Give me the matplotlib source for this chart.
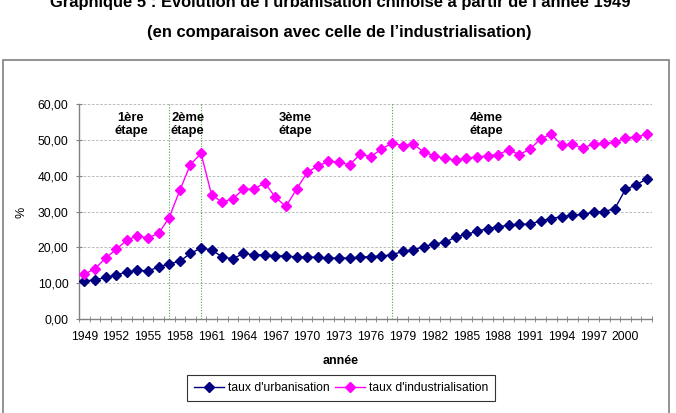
import matplotlib
matplotlib.use("Agg")
import matplotlib.pyplot as plt
from matplotlib.patches import Rectangle
from matplotlib.ticker import FixedLocator, FuncFormatter

plt.rcParams['font.family'] = ['Liberation Sans', 'DejaVu Sans']

years = list(range(1949, 2003))
urbanisation = [10.6, 10.9, 11.6, 12.3, 13.1, 13.6, 13.4, 14.5, 15.4, 16.1,
                18.3, 19.8, 19.3, 17.3, 16.8, 18.3, 17.9, 17.9, 17.6, 17.6,
                17.3, 17.3, 17.2, 17.0, 17.0, 17.0, 17.3, 17.4, 17.6, 17.9,
                18.9, 19.3, 20.2, 21.0, 21.4, 22.9, 23.6, 24.5, 25.2, 25.8,
                26.1, 26.4, 26.5, 27.4, 28.0, 28.6, 28.9, 29.2, 29.8, 30.0,
                30.8, 36.2, 37.4, 39.1]
industrialisation = [12.5, 14.0, 17.0, 19.4, 22.0, 23.2, 22.6, 23.9, 28.3, 35.9,
                     43.1, 46.2, 34.6, 32.6, 33.6, 36.2, 36.2, 38.0, 34.0, 31.4,
                     36.2, 40.9, 42.7, 44.0, 43.8, 43.0, 46.0, 45.3, 47.4, 49.1,
                     48.4, 48.8, 46.6, 45.5, 44.8, 44.3, 44.9, 45.2, 45.5, 45.9,
                     47.2, 45.9, 47.4, 50.3, 51.6, 48.5, 48.7, 47.7, 48.9, 49.0,
                     49.3, 50.5, 50.8, 51.5]
stage_lines = [1957, 1960, 1978]
stage_labels = ["1ère\nétape", "2ème\nétape", "3ème\nétape", "4ème\nétape"]
stage_label_x = [1953.4, 1958.75, 1968.9, 1986.9]

W, H = 676, 413
fig = plt.figure(figsize=(W / 100, H / 100), dpi=100)

# outer frame
fig.patches.append(Rectangle((3 / W, -0.05), 666 / W, 1 - 60 / H + 0.05,
                             transform=fig.transFigure, fill=False,
                             edgecolor='#808080', linewidth=1.2))

fig.text(340 / W, 1 - 7.5 / H, "Graphique 5 : Evolution de l\u2019urbanisation chinoise à partir de l\u2019année 1949",
         ha='center', va='baseline', fontsize=11.9, fontweight='bold')
fig.text(339.5 / W, 1 - 36.5 / H, "(en comparaison avec celle de l\u2019industrialisation)",
         ha='center', va='baseline', fontsize=11.9, fontweight='bold')

ax = fig.add_axes([79 / W, 1 - 319 / H, (652 - 79) / W, (319 - 104) / H])
ax.set_xlim(1948.5, 2002.5)
ax.set_ylim(0, 60)

for v in range(10, 61, 10):
    ax.axhline(v, color='#b0b0b0', linestyle=(0, (3, 2)), linewidth=0.6, zorder=0)

for x in stage_lines:
    ax.axvline(x, color='#44aa44', linestyle=(0, (1, 1.5)), linewidth=0.8, zorder=1)

ax.plot(years, urbanisation, color='#000080', marker='D', markersize=5,
        linewidth=1, label="taux d'urbanisation", zorder=3)
ax.plot(years, industrialisation, color='#FF00FF', marker='D', markersize=5,
        linewidth=1, label="taux d'industrialisation", zorder=3)

for lab, x in zip(stage_labels, stage_label_x):
    ax.text(x, 54.4, lab, ha='center', va='center', fontsize=9.3,
            fontweight='bold', linespacing=1.1)

for s in ['top', 'right']:
    ax.spines[s].set_visible(False)
for s in ['left', 'bottom']:
    ax.spines[s].set_color('#808080')
    ax.spines[s].set_linewidth(1)

ax.set_yticks(range(0, 61, 10))
ax.yaxis.set_major_formatter(FuncFormatter(lambda v, p: f"{v:.2f}".replace('.', ',')))
ax.set_xticks(years[::3])
ax.set_xticklabels([str(y) for y in years[::3]])
ax.xaxis.set_minor_locator(FixedLocator([y + 0.5 for y in range(1948, 2003)]))
ax.tick_params(axis='x', which='major', length=0, labelsize=8.7, pad=9)
ax.tick_params(axis='x', which='minor', length=5, direction='inout', color='#808080')
ax.tick_params(axis='y', which='major', length=5, direction='inout', color='#808080',
               labelsize=8.7, pad=5)

ax.set_xlabel("année", fontsize=9, fontweight='bold')
ax.xaxis.set_label_coords((341 - 79) / 573, (319 - 355) / 215)
ax.set_ylabel("%", fontsize=9)
ax.yaxis.set_label_coords((27.5 - 79) / 573, (319 - 212.7) / 215)

leg = fig.legend(loc='center', bbox_to_anchor=(341 / W, 1 - 388 / H), ncol=2,
                 fontsize=8.7, frameon=True, fancybox=False, edgecolor='black',
                 handlelength=2.5, columnspacing=0.5, handletextpad=0.3,
                 borderpad=0.55, borderaxespad=0)
leg.get_frame().set_linewidth(0.8)

fig.savefig("out.png", dpi=100)
